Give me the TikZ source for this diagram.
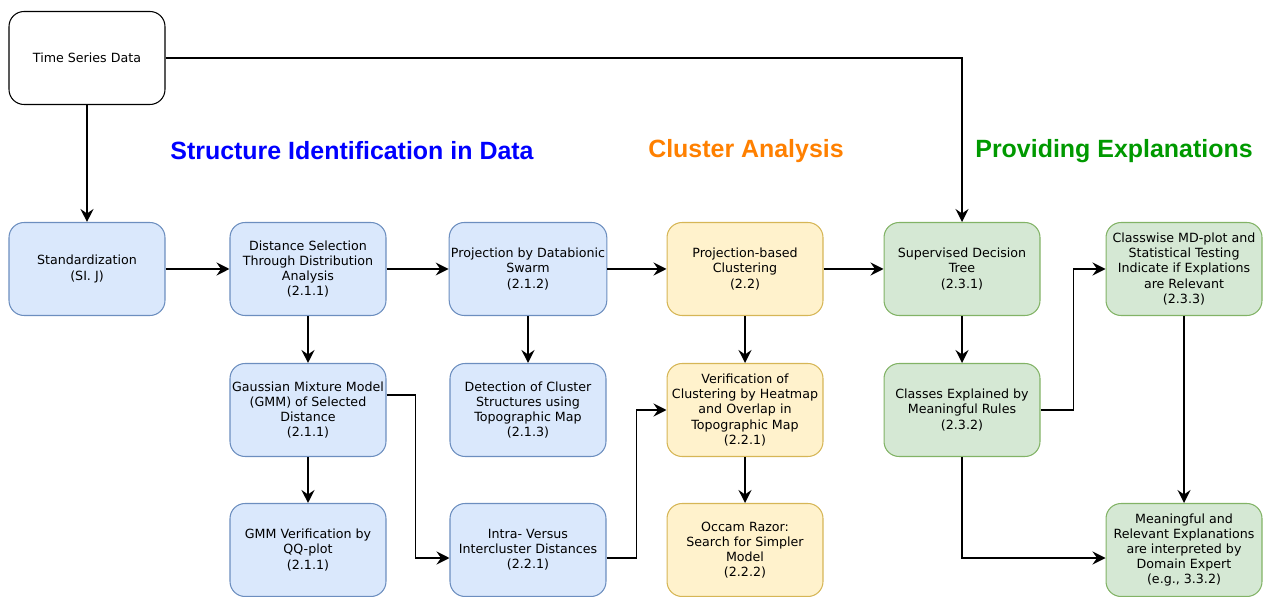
\documentclass[tikz,border=0pt]{standalone}
\usepackage{fontspec}
\setmainfont{DejaVu Sans}
\newfontfamily\headfont{Liberation Sans}
\usetikzlibrary{arrows.meta}

\definecolor{bluefill}{HTML}{DAE8FC}
\definecolor{blueline}{HTML}{6C8EBF}
\definecolor{yellowfill}{HTML}{FFF2CC}
\definecolor{yellowline}{HTML}{D6B656}
\definecolor{greenfill}{HTML}{D5E8D4}
\definecolor{greenline}{HTML}{82B366}
\definecolor{headblue}{HTML}{0000FF}
\definecolor{headorange}{HTML}{FF8000}
\definecolor{headgreen}{HTML}{009900}

\begin{document}
\begin{tikzpicture}[x=0.02cm, y=-0.02cm,
  box/.style={draw, rounded corners=0.3cm, minimum width=3.12cm, minimum height=1.86cm,
    inner sep=1pt, align=center, line width=0.6pt,
    font=\fontsize{7.2}{8.6}\selectfont},
  box_plain/.style={box, draw=black, fill=white},
  box_blue/.style={box, draw=blueline, fill=bluefill},
  box_yellow/.style={box, draw=yellowline, fill=yellowfill},
  box_green/.style={box, draw=greenline, fill=greenfill},
  heading/.style={font=\headfont\bfseries\fontsize{14.2}{16}\selectfont},
  arrow/.style={-{Stealth[length=2.6mm, width=2.6mm, inset=0.9mm]}, line width=0.8pt}]

\useasboundingbox (0,0) rectangle (1263,597);

\node[box_plain] (tsd) at (87,58) {Time Series Data};

\node[heading, text=headblue] (h_struct) at (352,151) {Structure Identification in Data};
\node[heading, text=headorange] (h_clust) at (746,151) {Cluster Analysis};
\node[heading, text=headgreen] (h_expl) at (1114,151) {Providing Explanations};

% first row
\node[box_blue] (std) at (87,269) {Standardization\\(SI. J)};
\node[box_blue] (dist) at (308,269) {Distance Selection\\Through Distribution\\Analysis\\(2.1.1)};
\node[box_blue] (pds) at (528,269) {Projection by Databionic\\Swarm\\(2.1.2)};
\node[box_yellow] (pbc) at (745,269) {Projection-based\\Clustering\\(2.2)};
\node[box_green] (sdt) at (962,269) {Supervised Decision\\Tree\\(2.3.1)};
\node[box_green] (cw) at (1184,269) {Classwise MD-plot and\\Statistical Testing\\Indicate if Explations\\are Relevant\\(2.3.3)};

% second row
\node[box_blue] (gmm) at (308,410) {Gaussian Mixture Model\\(GMM) of Selected\\Distance\\(2.1.1)};
\node[box_blue] (det) at (528,410) {Detection of Cluster\\Structures using\\Topographic Map\\(2.1.3)};
\node[box_yellow] (ver) at (745,410) {Verification of\\Clustering by Heatmap\\and Overlap in\\Topographic Map\\(2.2.1)};
\node[box_green] (cls) at (962,410) {Classes Explained by\\Meaningful Rules\\(2.3.2)};

% third row
\node[box_blue] (gmmv) at (308,550) {GMM Verification by\\QQ-plot\\(2.1.1)};
\node[box_blue] (intra) at (528,550) {Intra- Versus\\Intercluster Distances\\(2.2.1)};
\node[box_yellow] (occam) at (745,550) {Occam Razor:\\Search for Simpler\\Model\\(2.2.2)};
\node[box_green] (mre) at (1184,550) {Meaningful and\\Relevant Explanations\\are interpreted by\\Domain Expert\\(e.g., 3.3.2)};

\draw[arrow] (tsd) -- (std);
\draw[arrow] (tsd.east) -| (sdt.north);
\draw[arrow] (std) -- (dist);
\draw[arrow] (dist) -- (pds);
\draw[arrow] (pds) -- (pbc);
\draw[arrow] (pbc) -- (sdt);
\draw[arrow] (dist) -- (gmm);
\draw[arrow] (gmm) -- (gmmv);
\draw[arrow] (pds) -- (det);
\draw[arrow] (pbc) -- (ver);
\draw[arrow] (ver) -- (occam);
\draw[arrow] (sdt) -- (cls);
\draw[arrow] (cw) -- (mre);
\draw[arrow] ([yshift=3mm]gmm.east) -- ++(29,0) |- ([yshift=-1.6mm]intra.west);
\draw[arrow] ([yshift=-1.6mm]intra.east) -- ++(30,0) |- (ver.west);
\draw[arrow] (cls.east) -- ++(33,0) |- (cw.west);
\draw[arrow] (cls.south) |- ([yshift=-1.6mm]mre.west);

\end{tikzpicture}
\end{document}
